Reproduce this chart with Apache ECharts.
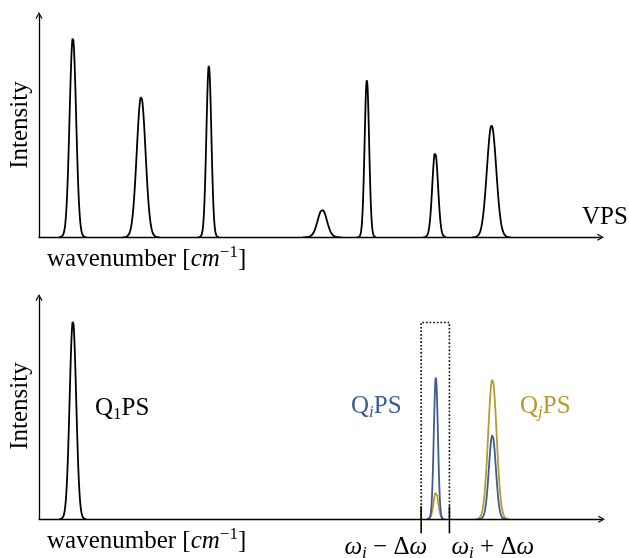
<!DOCTYPE html>
<html>
<head>
<meta charset="utf-8">
<script src="https://cdn.jsdelivr.net/npm/echarts@6/dist/echarts.min.js"></script>
<style>
html,body{margin:0;padding:0;background:#fff;}
#chart{width:629px;height:558px;}
</style>
</head>
<body>
<div id="chart"></div>
<script>
// ---- data ----
const xRange = [0, 99.5];
const yRange = [0, 100];
// top panel: vibrational power spectrum (VPS) peaks
const vpsCenters = [6, 18.1, 30.1, 50.2, 58.1, 70.2, 80.2];
const vpsHeights = [90, 63.5, 77.5, 12.5, 71, 38.5, 50.5];
const vpsWidths  = [0.58, 0.78, 0.44, 0.82, 0.40, 0.51, 0.83];
// bottom panel: per-mode power spectra
const q1Centers = [6];
const q1Heights = [89.5];
const q1Widths  = [0.58];
const qiCenters = [70.2, 80.2];
const qiHeights = [64.2, 37.9];
const qiWidths  = [0.36, 0.62];
const qjCenters = [70.2, 80.2];
const qjHeights = [12.4, 63.2];
const qjWidths  = [0.42, 0.75];
// frequency window  omega_i +/- delta omega
const windowCenter = [70.1];
const windowHalfWidth = 2.5;
const windowTop = 88.7;

const BLUE = '#3d5c94';
const GOLD = '#b89b2e';
const FONT = '"Liberation Serif", "DejaVu Serif", serif';
const FS = 25;

// sample each peak's line shape around its centre
function peakCurve(centers, heights, widths) {
  const pts = [];
  centers.forEach(function (c, k) {
    const s = widths[k];
    const a = c - 4.2 * s, b = c + 4.2 * s, step = s / 40;
    for (let x = a; x <= b + 1e-9; x += step) {
      let y = 0;
      for (let j = 0; j < centers.length; j++) {
        const d = (x - centers[j]) / widths[j];
        y += heights[j] * Math.exp(-0.5 * d * d);
      }
      pts.push([x, y]);
    }
    pts.push([b + step, null]);
  });
  return pts;
}

const arrowPath = 'path://M5,0 L10,9 L8.6,9.9 L5,3 L1.4,9.9 L0,9 Z';

function axisPair(idx) {
  return {
    x: {
      type: 'value', gridIndex: idx, min: xRange[0], max: xRange[1], z: 5,
      axisLine: { show: true, onZero: false, symbol: ['none', arrowPath], symbolSize: [7, 7],
        lineStyle: { color: '#000', width: 1.3 } },
      axisTick: { show: false }, axisLabel: { show: false }, splitLine: { show: false }
    },
    y: {
      type: 'value', gridIndex: idx, min: yRange[0], max: yRange[1], z: 5,
      axisLine: { show: true, onZero: false, symbol: ['none', arrowPath], symbolSize: [7, 7],
        lineStyle: { color: '#000', width: 1.3 } },
      axisTick: { show: false }, axisLabel: { show: false }, splitLine: { show: false }
    }
  };
}
const a0 = axisPair(0), a1 = axisPair(1);

function lineSeries(name, data, color, xi) {
  return {
    name: name, type: 'line', xAxisIndex: xi, yAxisIndex: xi, data: data,
    showSymbol: false, symbol: 'none', connectNulls: false, smooth: false,
    lineStyle: { color: color, width: 1.8 }, animation: false, silent: true, z: 2
  };
}

const richMain = {
  n: { fontFamily: FONT, fontSize: FS },
  it: { fontFamily: FONT, fontSize: FS, fontStyle: 'italic' },
  sub: { fontFamily: FONT, fontSize: 17, padding: [13, 0, 0, 0] },
  subi: { fontFamily: FONT, fontSize: 17, fontStyle: 'italic', padding: [13, 0, 0, 0] },
  sup: { fontFamily: FONT, fontSize: 17, padding: [0, 0, 12, 0] }
};

function windowRender(params, api) {
  const c = api.value(0);
  const pL = api.coord([c - windowHalfWidth, 0]);
  const pR = api.coord([c + windowHalfWidth, 0]);
  const pT = api.coord([c, windowTop]);
  const base = pL[1];
  return {
    type: 'group',
    children: [
      { type: 'polyline', shape: { points: [[pL[0], base], [pL[0], pT[1]], [pR[0], pT[1]], [pR[0], base]] },
        style: { stroke: '#000', lineWidth: 1.6, lineDash: [1.6, 2.0], fill: null } },
      { type: 'line', shape: { x1: pL[0], y1: base - 13, x2: pL[0], y2: base + 14 },
        style: { stroke: '#000', lineWidth: 1.6 } },
      { type: 'line', shape: { x1: pR[0], y1: base - 13, x2: pR[0], y2: base + 14 },
        style: { stroke: '#000', lineWidth: 1.6 } },
      { type: 'text', x: pL[0] + 6, y: base + 28,
        style: { text: '{it|ω}{subi|i}{n| − Δ}{it|ω}', rich: richMain, align: 'right', verticalAlign: 'middle',
          fill: '#000', font: FS + 'px ' + FONT } },
      { type: 'text', x: pR[0] + 2, y: base + 28,
        style: { text: '{it|ω}{subi|i}{n| + Δ}{it|ω}', rich: richMain, align: 'left', verticalAlign: 'middle',
          fill: '#000', font: FS + 'px ' + FONT } }
    ]
  };
}

const chart = echarts.init(document.getElementById('chart'), null, { renderer: 'canvas' });
chart.setOption({
  animation: false,
  backgroundColor: '#fff',
  grid: [
    { left: 39, top: 15.5, width: 561.5, height: 221.8 },
    { left: 39, top: 297.5, width: 562.5, height: 221.8 }
  ],
  xAxis: [a0.x, a1.x],
  yAxis: [a0.y, a1.y],
  series: [
    lineSeries('VPS', peakCurve(vpsCenters, vpsHeights, vpsWidths), '#000', 0),
    lineSeries('Q1PS', peakCurve(q1Centers, q1Heights, q1Widths), '#000', 1),
    lineSeries('QjPS', peakCurve(qjCenters, qjHeights, qjWidths), GOLD, 1),
    lineSeries('QiPS', peakCurve(qiCenters, qiHeights, qiWidths), BLUE, 1),
    { type: 'custom', xAxisIndex: 1, yAxisIndex: 1, data: windowCenter.map(function (v) { return [v]; }),
      renderItem: windowRender, silent: true, z: 6, clip: false }
  ],
  graphic: [
    { type: 'text', x: 20, y: 125, rotation: Math.PI / 2,
      style: { text: 'Intensity', font: FS + 'px ' + FONT, fill: '#000', align: 'center', verticalAlign: 'middle' } },
    { type: 'text', x: 20, y: 406, rotation: Math.PI / 2,
      style: { text: 'Intensity', font: FS + 'px ' + FONT, fill: '#000', align: 'center', verticalAlign: 'middle' } },
    { type: 'text', x: 47, y: 259,
      style: { text: '{n|wavenumber [}{it|cm}{sup|−1}{n|]}', rich: richMain, fill: '#000', font: FS + 'px ' + FONT,
        align: 'left', verticalAlign: 'middle' } },
    { type: 'text', x: 47, y: 541,
      style: { text: '{n|wavenumber [}{it|cm}{sup|−1}{n|]}', rich: richMain, fill: '#000', font: FS + 'px ' + FONT,
        align: 'left', verticalAlign: 'middle' } },
    { type: 'text', x: 582, y: 217,
      style: { text: 'VPS', font: FS + 'px ' + FONT, fill: '#000', align: 'left', verticalAlign: 'middle' } },
    { type: 'text', x: 95, y: 408,
      style: { text: '{n|Q}{sub|1}{n|PS}', rich: richMain, fill: '#000', font: FS + 'px ' + FONT,
        align: 'left', verticalAlign: 'middle' } },
    { type: 'text', x: 351, y: 406,
      style: { text: '{n|Q}{subi|i}{n|PS}', rich: richMain, fill: BLUE, font: FS + 'px ' + FONT,
        align: 'left', verticalAlign: 'middle' } },
    { type: 'text', x: 520, y: 406,
      style: { text: '{n|Q}{subi|j}{n|PS}', rich: richMain, fill: GOLD, font: FS + 'px ' + FONT,
        align: 'left', verticalAlign: 'middle' } }
  ]
});
</script>
</body>
</html>
